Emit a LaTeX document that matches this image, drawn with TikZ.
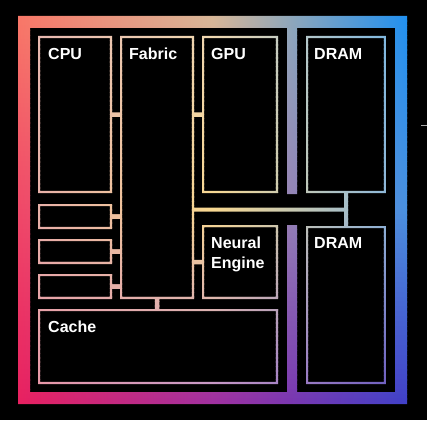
\documentclass[tikz,border=0pt]{standalone}
\usepackage{fontspec}
\setmainfont{Liberation Sans}
\usetikzlibrary{calc}
% frame gradient (top / middle / bottom rows; left / middle / right)
\definecolor{FtL}{HTML}{F87868}\definecolor{FtM}{HTML}{D8B898}\definecolor{FtR}{HTML}{2090F0}
\definecolor{FmL}{HTML}{F04868}\definecolor{FmM}{HTML}{C87898}\definecolor{FmR}{HTML}{4890E0}
\definecolor{FbL}{HTML}{E82060}\definecolor{FbM}{HTML}{A030A0}\definecolor{FbR}{HTML}{4040C8}
% inner (pastel) gradient
\definecolor{ItL}{HTML}{E8B8B0}\definecolor{ItM}{HTML}{F0D8B0}\definecolor{ItR}{HTML}{80B8E0}
\definecolor{ImL}{HTML}{E8B0A8}\definecolor{ImM}{HTML}{F8D890}\definecolor{ImR}{HTML}{90B8D8}
\definecolor{IbL}{HTML}{E898A8}\definecolor{IbM}{HTML}{C898C8}\definecolor{IbR}{HTML}{7060C0}
\newcommand\gradstrips[6]{% #1 prefix, #2 xl, #3 xr, #4 ytop, #5 ymid, #6 ybot
  \foreach \k in {0,...,39}{%
    \pgfmathsetmacro\pp{\k*2.5+1.25}%
    \pgfmathsetmacro\ya{#4+(#5-#4)*\k/40-0.3}%
    \pgfmathsetmacro\yb{#4+(#5-#4)*(\k+1)/40+0.3}%
    \colorlet{gL}{#1mL!\pp!#1tL}\colorlet{gM}{#1mM!\pp!#1tM}\colorlet{gR}{#1mR!\pp!#1tR}%
    \shade[left color=gL,right color=gR,middle color=gM] (#2,\ya) rectangle (#3,\yb);
  }%
  \foreach \k in {0,...,39}{%
    \pgfmathsetmacro\pp{\k*2.5+1.25}%
    \pgfmathsetmacro\ya{#5+(#6-#5)*\k/40-0.3}%
    \pgfmathsetmacro\yb{#5+(#6-#5)*(\k+1)/40+0.3}%
    \colorlet{gL}{#1bL!\pp!#1mL}\colorlet{gM}{#1bM!\pp!#1mM}\colorlet{gR}{#1bR!\pp!#1mR}%
    \shade[left color=gL,right color=gR,middle color=gM] (#2,\ya) rectangle (#3,\yb);
  }%
}
\tikzset{
  blk/.style={rectangle, inner sep=0pt, outer sep=0pt, draw=none},
  lbl/.style={text=white, font=\bfseries\fontsize{16}{20.5}\selectfont, inner sep=0pt, anchor=base west, align=left},
}
\begin{document}
\begin{tikzpicture}[x=1pt,y=-1pt]
\fill[black] (0,0) rectangle (427,420);
\useasboundingbox (0,0) rectangle (427,420);
% blocks
\node[blk, minimum width=74pt, minimum height=157pt] (cpu)   at (75,114.5) {};
\node[blk, minimum width=74pt, minimum height=263pt] (fab)   at (157,167.5) {};
\node[blk, minimum width=76pt, minimum height=157pt] (gpu)   at (240,114.5) {};
\node[blk, minimum width=80pt, minimum height=157pt] (dramA) at (346,114.5) {};
\node[blk, minimum width=74pt, minimum height=25pt]  (s1)    at (75,216.5) {};
\node[blk, minimum width=74pt, minimum height=25pt]  (s2)    at (75,251.5) {};
\node[blk, minimum width=74pt, minimum height=25pt]  (s3)    at (75,286.5) {};
\node[blk, minimum width=76pt, minimum height=74pt]  (neu)   at (240,262) {};
\node[blk, minimum width=80pt, minimum height=158pt] (dramB) at (346,305) {};
\node[blk, minimum width=240pt, minimum height=75pt] (cache) at (158,346.5) {};
% connector end points
\foreach \a/\b/\n in {cpu.east/fab.west/k1, gpu.west/fab.east/k2, s1.east/fab.west/k3,
                      s2.east/fab.west/k4, s3.east/fab.west/k5, neu.west/fab.east/k6}{
  \coordinate (\n-a) at (\a);
  \coordinate (\n-b) at (\a -| \b);
}
\coordinate (kv) at (fab.south |- cache.north);
\coordinate (bus) at ($(dramA.south)!0.5!(dramB.north)$);
\coordinate (busL) at (fab.east |- bus);
% outer frame with divider
\begin{scope}[even odd rule]
  \clip (18,16) rectangle (407,404)
     (30,28) -- (287,28) -- (287,194) -- (297,194) -- (297,28) -- (395,28) -- (395,392)
     -- (297,392) -- (297,225) -- (287,225) -- (287,392) -- (30,392) -- cycle;
  \gradstrips{F}{18}{407}{16}{210}{404}
\end{scope}
% block outlines and connectors
\begin{scope}[even odd rule]
  \clip
    \foreach \n in {cpu,fab,gpu,dramA,s1,s2,s3,neu,dramB,cache}{
      (\n.north west) rectangle (\n.south east)
      ([shift={(2.2,2.2)}]\n.north west) rectangle ([shift={(-2.2,-2.2)}]\n.south east)
    }
    \foreach \n in {k1,k2,k3,k4,k5,k6}{
      ([yshift=2.25pt]\n-a) rectangle ([yshift=-2.25pt]\n-b)
    }
    ([xshift=-2.25pt]fab.south) rectangle ([xshift=2.25pt]kv)
    ([yshift=2pt]busL) rectangle ([xshift=2pt,yshift=-2pt]bus)
    ([xshift=-2pt]dramA.south) rectangle ([xshift=2pt,yshift=2pt]bus)
    ([xshift=-2pt,yshift=-2pt]bus) rectangle ([xshift=2pt]dramB.north);
  \gradstrips{I}{38}{386}{36}{210}{384}
\end{scope}
% labels
\node[lbl] (tcpu)   at ([shift={(10,23)}]cpu.north west) {CPU};
\node[lbl] (tfab)   at ([shift={(9,23)}]fab.north west) {Fabric};
\node[lbl] (tgpu)   at ([shift={(9,23)}]gpu.north west) {GPU};
\node[lbl] (tdramA) at ([shift={(8,23)}]dramA.north west) {DRAM};
\node[lbl] (tdramB) at ([shift={(8,22)}]dramB.north west) {DRAM};
\node[lbl] (tneu)   at ([shift={(9,43.5)}]neu.north west) {Neural\\Engine};
\node[lbl] (tcache) at ([shift={(10,23)}]cache.north west) {Cache};
% small mark at the right edge
\draw[gray!70, line width=0.8pt] (421,125) -- (427,125);
\end{tikzpicture}
\end{document}
